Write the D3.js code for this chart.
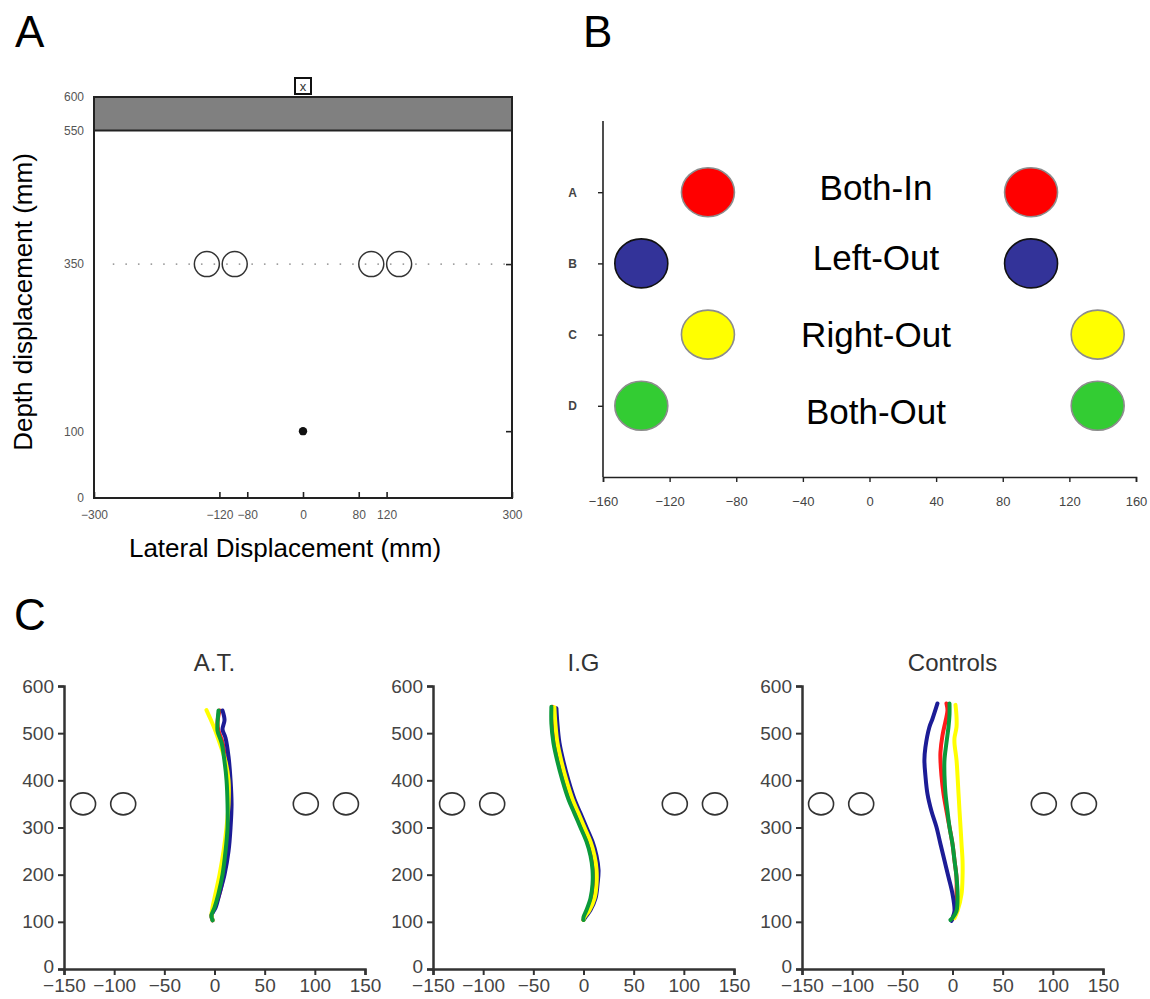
<!DOCTYPE html>
<html>
<head>
<meta charset="utf-8">
<script src="https://cdn.jsdelivr.net/npm/d3@7/dist/d3.min.js"></script>
<style>
  body { margin: 0; background: #fff; }
  svg { display: block; font-family: "Liberation Sans", Arial, sans-serif; }
</style>
</head>
<body>
<svg id="fig" width="1150" height="999"></svg>
<script>
// ---------- data ----------
// panel A: the reaching set-up (mm)
const setupYTicks = [0, 100, 350, 550, 600];
const setupXTicks = [-300, -120, -80, 0, 80, 120, 300];
const setupRightTicks = [350, 100];
const setupObstacleX = [-138, -98, 98, 138];
const setupObstacleY = 350;
const setupStart = [0, 100];
const setupTargetZone = [550, 600];

// panel B: obstacle conditions
const condRows = ['A', 'B', 'C', 'D'];
const condRowPos = [4, 3, 2, 1];
const condNames = ['Both-In', 'Left-Out', 'Right-Out', 'Both-Out'];
const condLeftX = [-97, -137, -97, -137];
const condRightX = [97, 97, 137, 137];
const condXTicks = [-160, -120, -80, -40, 0, 40, 80, 120, 160];
const condFill = ['#ff0000', '#333399', '#ffff00', '#33cc33'];
const condEdge = ['#8c8c8c', '#111111', '#8c8c8c', '#8c8c8c'];

// panel C: mean hand paths per group, one per condition [lateral, depth]
const groups = ['A.T.', 'I.G', 'Controls'];
const trajXTicks = [-150, -100, -50, 0, 50, 100, 150];
const trajYTicks = [0, 100, 200, 300, 400, 500, 600];
const trajObstacleX = [-131, -91, 91, 131];
const trajObstacleY = 350;

const atRed = [[5,548],[3,522],[4,505],[8,480],[11,440],[13,400],[14,350],[14,300],[12,250],[9,200],[5,160],[0,130],[-3,114],[-2,103]];
const atBlue = [[8,548],[10,528],[8,508],[11,490],[14,450],[16,400],[17,350],[16,300],[14,250],[10,200],[5,160],[1,130],[-3,114],[-2,105]];
const atYellow = [[-8,549],[-4,530],[0,510],[5,480],[11,440],[14,400],[14,350],[12,300],[9,250],[5,200],[1,160],[-2,130],[-3,114],[-2,104]];
const atGreen = [[4,548],[3,522],[3,505],[7,480],[10,440],[12,400],[13,350],[13,300],[11,250],[8,200],[4,160],[0,130],[-3,114],[-2,103]];

const igRed = [[-31,556],[-30,520],[-28,480],[-24,440],[-19,400],[-13,360],[-7,330],[-1,300],[5,270],[9,240],[11,210],[11,180],[9,150],[5,125],[1,110],[0,104]];
const igBlue = [[-27,553],[-26,520],[-24,480],[-20,440],[-15,400],[-9,360],[-3,330],[3,300],[9,270],[13,240],[15,210],[14,180],[12,150],[7,125],[2,110],[0,104]];
const igYellow = [[-29,555],[-28,520],[-26,480],[-22,440],[-17,400],[-11,360],[-5,330],[1,300],[7,270],[11,240],[13,210],[13,180],[11,150],[6,125],[1,110],[0,104]];
const igGreen = [[-32,556],[-32,520],[-30,480],[-26,440],[-21,400],[-15,360],[-9,330],[-3,300],[3,270],[7,240],[9,210],[9,180],[7,150],[3,125],[0,110],[0,104]];

const ctRed = [[-6,563],[-5,548],[-7,525],[-10,495],[-12,460],[-12,443],[-11,410],[-9,372],[-6,335],[-3,301],[0,265],[2,230],[4,195],[4,159],[3,123],[0,106]];
const ctBlue = [[-15,563],[-20,530],[-23,513],[-27,470],[-28,443],[-27,410],[-25,372],[-21,335],[-16,301],[-12,265],[-8,230],[-4,195],[0,159],[2,123],[0,108],[-1,102]];
const ctYellow = [[3,560],[4,535],[4,513],[2,490],[2,478],[4,443],[5,410],[6,372],[7,335],[8,301],[9,265],[10,230],[10,195],[9,159],[5,123],[2,108]];
const ctGreen = [[-3,563],[-3,540],[-4,513],[-6,480],[-8,443],[-8,410],[-7,372],[-5,335],[-3,301],[0,265],[2,230],[4,195],[5,159],[4,123],[0,108],[-2,104]];

const trajectories = [
  [atRed, atBlue, atYellow, atGreen],
  [igRed, igBlue, igYellow, igGreen],
  [ctRed, ctBlue, ctYellow, ctGreen]
];
const lineColors = ['#ff1a1a', '#1c1c96', '#ffff00', '#0b9a3a'];

// ---------- drawing ----------
const svg = d3.select('#fig');

// panel letters
svg.append('text').attr('x', 15).attr('y', 47).attr('font-size', 44).text('A');
svg.append('text').attr('x', 583).attr('y', 47).attr('font-size', 44).text('B');
svg.append('text').attr('x', 14).attr('y', 630).attr('font-size', 44).text('C');

// ===== Panel A =====
(function drawSetup() {
  const x = d3.scaleLinear().domain([-300, 300]).range([94, 512]);
  const y = d3.scaleLinear().domain([0, 600]).range([498, 97]);
  const g = svg.append('g');

  // target zone band
  g.append('rect')
    .attr('x', x(-300)).attr('y', y(setupTargetZone[1]))
    .attr('width', x(300) - x(-300))
    .attr('height', y(setupTargetZone[0]) - y(setupTargetZone[1]))
    .attr('fill', '#808080');

  // dotted line through obstacles
  g.append('line')
    .attr('x1', x(-272)).attr('x2', x(300))
    .attr('y1', y(setupObstacleY)).attr('y2', y(setupObstacleY))
    .attr('stroke', '#999').attr('stroke-width', 1.8)
    .attr('stroke-dasharray', '0.1,12.5').attr('stroke-linecap', 'round');

  // frame
  g.append('rect')
    .attr('x', x(-300)).attr('y', y(600))
    .attr('width', x(300) - x(-300)).attr('height', y(0) - y(600))
    .attr('fill', 'none').attr('stroke', '#222').attr('stroke-width', 2);
  g.append('line')
    .attr('x1', x(-300)).attr('x2', x(300))
    .attr('y1', y(setupTargetZone[0])).attr('y2', y(setupTargetZone[0]))
    .attr('stroke', '#222').attr('stroke-width', 2);

  // axes
  const left = g.append('g').attr('transform', `translate(${x(-300)},0)`)
    .call(d3.axisLeft(y).tickValues(setupYTicks).tickSize(0).tickPadding(10));
  const bottom = g.append('g').attr('transform', `translate(0,${y(0)})`)
    .call(d3.axisBottom(x).tickValues(setupXTicks).tickSize(-6).tickPadding(12));
  const right = g.append('g').attr('transform', `translate(${x(300)},0)`)
    .call(d3.axisRight(y).tickValues(setupRightTicks).tickSize(-6).tickFormat(''));
  [left, bottom, right].forEach(a => {
    a.select('.domain').remove();
    a.selectAll('line').attr('stroke', '#222').attr('stroke-width', 1.6);
    a.selectAll('text').attr('font-size', 12).attr('fill', '#555')
      .attr('font-family', '"Liberation Sans", Arial, sans-serif');
  });

  // obstacles
  g.selectAll('.obs').data(setupObstacleX).enter().append('circle')
    .attr('cx', d => x(d)).attr('cy', y(setupObstacleY)).attr('r', 12.5)
    .attr('fill', 'none').attr('stroke', '#333').attr('stroke-width', 1.5);

  // start point
  g.append('circle').attr('cx', x(setupStart[0])).attr('cy', y(setupStart[1]))
    .attr('r', 4.2).attr('fill', '#111');

  // fixation box
  const bx = x(0), by = y(600) - 11;
  g.append('rect').attr('x', bx - 8).attr('y', by - 8).attr('width', 16).attr('height', 16)
    .attr('fill', '#fff').attr('stroke', '#111').attr('stroke-width', 2);
  g.append('text').attr('x', bx).attr('y', by + 5).attr('text-anchor', 'middle')
    .attr('font-size', 13).attr('fill', '#333').text('x');

  // axis titles
  g.append('text').attr('x', 285).attr('y', 557).attr('text-anchor', 'middle')
    .attr('font-size', 26).text('Lateral Displacement (mm)');
  g.append('text').attr('transform', 'rotate(-90)')
    .attr('x', -302).attr('y', 32).attr('text-anchor', 'middle')
    .attr('font-size', 26).text('Depth displacement (mm)');
})();

// ===== Panel B =====
(function drawConditions() {
  const x = d3.scaleLinear().domain([-160, 160]).range([603, 1136]);
  const y = d3.scaleLinear().domain([0, 5]).range([477, 121]);
  const labelDy = [-5, -6, 0, 6];
  const g = svg.append('g');

  const ax = g.append('g').attr('transform', `translate(0,${y(0)})`)
    .call(d3.axisBottom(x).tickValues(condXTicks).tickSizeOuter(0).tickSize(5).tickPadding(15));
  const ay = g.append('g').attr('transform', `translate(${x(-160)},0)`)
    .call(d3.axisLeft(y).tickValues(condRowPos).tickSizeOuter(0).tickSize(5).tickPadding(21)
      .tickFormat((d, i) => condRows[i]));
  ay.select('.domain').attr('d', `M0,${y(5)}V${y(0)}`);
  [ax, ay].forEach(a => {
    a.selectAll('.domain').attr('stroke', '#222').attr('stroke-width', 1.6);
    a.selectAll('line').attr('stroke', '#222').attr('stroke-width', 1.4);
    a.selectAll('text').attr('font-size', 13).attr('fill', '#444')
      .attr('font-family', '"Liberation Sans", Arial, sans-serif');
  });
  ay.selectAll('text').attr('font-size', 12).attr('font-weight', 'bold').attr('fill', '#444');

  condRows.forEach((r, i) => {
    const cy = y(condRowPos[i]);
    [condLeftX[i], condRightX[i]].forEach(cx => {
      g.append('ellipse').attr('cx', x(cx)).attr('cy', cy).attr('rx', 26.5).attr('ry', 24.5)
        .attr('fill', condFill[i]).attr('stroke', condEdge[i]).attr('stroke-width', 1.6);
    });
    g.append('text').attr('x', 876).attr('y', cy + labelDy[i]).attr('dy', '0.36em')
      .attr('text-anchor', 'middle').attr('font-size', 35).attr('fill', '#000')
      .text(condNames[i]);
  });
})();

// ===== Panel C =====
(function drawTrajectories() {
  const origins = [64, 433, 802];
  const y = d3.scaleLinear().domain([0, 600]).range([969, 686]);

  groups.forEach((name, gi) => {
    const x = d3.scaleLinear().domain([-150, 150]).range([origins[gi], origins[gi] + 301]);
    const g = svg.append('g');

    g.append('text').attr('x', x(0)).attr('y', 671).attr('text-anchor', 'middle')
      .attr('font-size', 24).attr('fill', '#333').text(name);

    const ax = g.append('g').attr('transform', `translate(0,${y(0)})`)
      .call(d3.axisBottom(x).tickValues(trajXTicks).tickSizeOuter(0).tickSize(6).tickPadding(4));
    const ay = g.append('g').attr('transform', `translate(${x(-150)},0)`)
      .call(d3.axisLeft(y).tickValues(trajYTicks).tickSizeOuter(0).tickSize(6).tickPadding(4));
    [ax, ay].forEach(a => {
      a.selectAll('.domain').attr('stroke', '#333').attr('stroke-width', 2.5);
      a.selectAll('line').attr('stroke', '#333').attr('stroke-width', 2);
      a.selectAll('text').attr('font-size', 19).attr('fill', '#444')
        .attr('font-family', '"Liberation Sans", Arial, sans-serif');
    });
    // keep the y "0" label clear of the "-150" below it
    ay.selectAll('.tick text').filter(d => d === 0).attr('dy', '0.2em');

    g.selectAll('.obs').data(trajObstacleX).enter().append('ellipse')
      .attr('cx', d => x(d)).attr('cy', y(trajObstacleY)).attr('rx', 12.5).attr('ry', 11)
      .attr('fill', 'none').attr('stroke', '#333').attr('stroke-width', 1.6);

    const line = d3.line().x(d => x(d[0])).y(d => y(d[1])).curve(d3.curveCatmullRom);
    trajectories[gi].forEach((pts, ci) => {
      g.append('path').attr('d', line(pts))
        .attr('fill', 'none').attr('stroke', lineColors[ci])
        .attr('stroke-width', 4).attr('stroke-linecap', 'round').attr('stroke-linejoin', 'round');
    });
  });
})();
</script>
</body>
</html>
